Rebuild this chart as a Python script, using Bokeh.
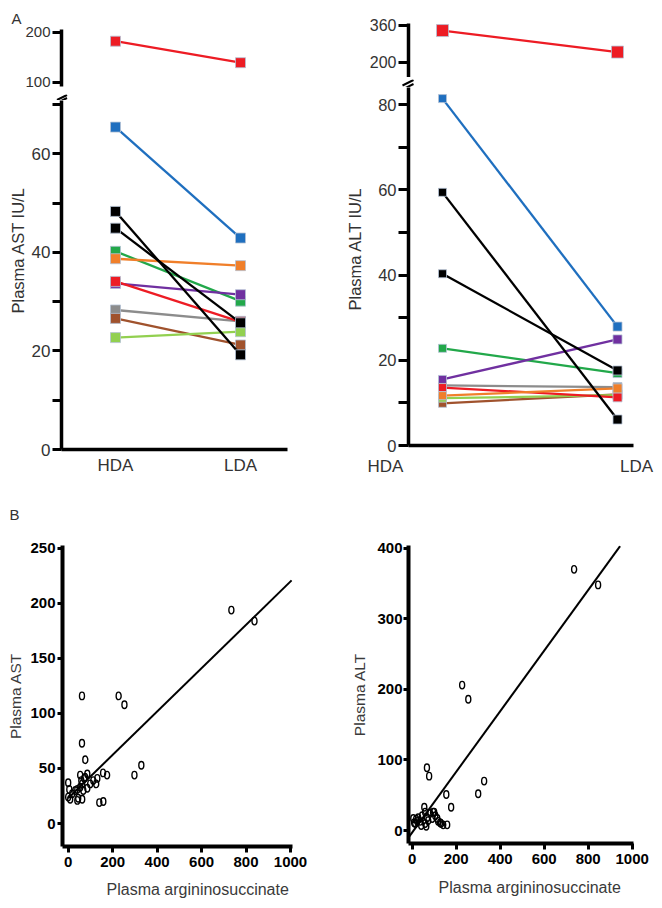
from bokeh.plotting import figure
from bokeh.layouts import row, column
from bokeh.models import FixedTicker, Range1d, Title
from bokeh.embed import file_html
from bokeh.resources import INLINE

FONT = "Liberation Sans"

# ---------------- data ----------------
groups = ["HDA", "LDA"]
series_colors = ["#8c8c8c", "#a0522d", "#92d050", "#22a84a", "#7030a0",
                 "#ed1c24", "#f07f2a", "#1f6fbf", "#000000", "#000000", "#ed1c24"]
ast_hda = [28.3, 26.6, 22.7, 40.2, 33.7, 34.1, 38.7, 65.4, 48.3, 44.9, 182]
ast_lda = [26.0, 21.2, 23.9, 30.1, 31.4, 25.9, 37.3, 42.9, 19.2, 25.7, 139]
alt_hda = [14.1, 9.9, 11.1, 22.8, 15.5, 13.6, 11.7, 81.4, 59.4, 40.3, 338]
alt_lda = [13.7, 12.0, 11.8, 17.0, 24.9, 11.3, 13.4, 27.9, 6.1, 17.6, 245]

ast_ticks_upper = [100, 200]
ast_ticks_lower = [0, 10, 20, 30, 40, 50, 60, 70]
alt_ticks_upper = [200, 360]
alt_ticks_lower = [0, 10, 20, 30, 40, 50, 60, 70, 80]

asa_ast_x = [0, 5, 0, 9, 18, 32, 41, 45, 41, 63, 68, 54, 54, 59, 63, 72, 77, 86, 86, 99,
             113, 126, 131, 77, 62, 62, 227, 253, 157, 175, 298, 329, 140, 158, 734, 838]
ast_y = [37, 31, 24, 22, 27, 30, 31, 23, 21, 22, 30, 33, 44, 39, 36, 41, 42, 45, 32, 36,
         39, 36, 41, 58, 73, 116, 116, 108, 46, 44, 44, 53, 19, 20, 194, 184]
ast_fit_x = [0, 1005]
ast_fit_y = [23, 221]

asa_alt_x = [5, 9, 18, 27, 36, 45, 55, 59, 68, 73, 59, 64, 82, 95, 105, 114, 118, 132, 141,
             159, 91, 41, 14, 23, 100, 127, 67, 77, 155, 177, 300, 327, 227, 255, 736, 845]
alt_y = [17, 11, 16, 18, 13, 21, 33, 26, 18, 14, 10, 6, 24, 26, 21, 17, 13, 10, 8,
         8, 17, 7, 10, 13, 26, 11, 89, 77, 51, 33, 52, 70, 206, 186, 370, 348]
alt_fit_x = [-17, 945]
alt_fit_y = [-10, 403]

x_ticks_asa = [0, 200, 400, 600, 800, 1000]
ast_ticks_sc = [0, 50, 100, 150, 200, 250]
alt_ticks_sc = [0, 100, 200, 300, 400]


# ---------------- helpers ----------------
def make_fig(fw, fh, xr, yr, mbl, mbr, mbt, mbb, xaxis=True, yaxis=True, align=True):
    p = figure(frame_width=fw, frame_height=fh,
               x_range=Range1d(*xr), y_range=Range1d(*yr),
               min_border_left=mbl, min_border_right=mbr,
               min_border_top=mbt, min_border_bottom=mbb,
               output_backend="svg", toolbar_location=None,
               x_axis_location="below" if xaxis else None,
               y_axis_location="left" if yaxis else None)
    p.outline_line_color = None
    p.grid.visible = False
    p.background_fill_color = "white"
    p.border_fill_color = "white"
    if not align and "frame_align" in p.properties():
        p.frame_align = False
    return p


def style_axis(ax, ticks, hide=(), lw=3.5, tick_out=9, size="16px", color="#333333",
               bold=False, standoff=2):
    ax.ticker = FixedTicker(ticks=ticks)
    if hide:
        ax.major_label_overrides = {t: "" for t in hide}
    ax.axis_line_width = lw
    ax.axis_line_color = "black"
    ax.major_tick_line_width = 3
    ax.major_tick_line_color = "black"
    ax.major_tick_out = tick_out
    ax.major_tick_in = 0
    ax.minor_tick_line_color = None
    ax.major_label_text_font = FONT
    ax.major_label_text_font_size = size
    ax.major_label_text_color = color
    ax.major_label_text_font_style = "bold" if bold else "normal"
    ax.major_label_standoff = standoff


def title(p, text, side, offset, standoff, size="16px", color="#333333"):
    p.add_layout(Title(text=text, align="left", offset=offset, standoff=standoff,
                       text_font=FONT, text_font_size=size, text_font_style="normal",
                       text_color=color), side)


def paired(p, hda, lda, hsize, lsize):
    xs = [i + 1 for i in range(len(groups))]
    for c, h, l in zip(series_colors, hda, lda):
        p.line(xs, [h, l], line_color=c, line_width=2.3)
        p.scatter([xs[0]], [h], marker="square", size=hsize, fill_color=c,
                  line_color="#b4c2d4", line_width=0.8)
        p.scatter([xs[1]], [l], marker="square", size=lsize, fill_color=c,
                  line_color="#b4c2d4", line_width=0.8)


def break_strip(fw, fh, xr, yr, x0, x1, ys0, ys1):
    # thin strip carrying the "//" axis-break marks (its coordinates are page pixels)
    b = make_fig(fw, fh, xr, yr, 0, 0, 0, 0, xaxis=False, yaxis=False, align=False)
    b.segment(x0=[x0, x0], y0=ys0, x1=[x1, x1], y1=ys1, line_color="black", line_width=2)
    return b


# ---------------- panel A: AST ----------------
ast_xr = (0.568, 2.376)
ast_up = make_fig(226, 57, ast_xr, (91.4, 205.4), 61, 41, 29, 5, xaxis=False)
style_axis(ast_up.yaxis[0], ast_ticks_upper, size="15px")
paired(ast_up, ast_hda, ast_lda, 10, 10)
title(ast_up, "A", "above", -50, 6, size="15px")

ast_brk = break_strip(328, 9, (0, 328), (100, 91), 56.5, 66.5, [96.5, 99.5], [91.5, 94.5])

ast_lo = make_fig(226, 349, ast_xr, (0.0, 70.8), 61, 41, 0, 31)
style_axis(ast_lo.yaxis[0], ast_ticks_lower, hide=[10, 30, 50, 70], size="17px")
style_axis(ast_lo.xaxis[0], [1, 2], size="17px", tick_out=0, standoff=6)
ast_lo.xaxis[0].major_label_overrides = {i + 1: gname for i, gname in enumerate(groups)}
ast_lo.xaxis[0].major_tick_line_color = None
paired(ast_lo, ast_hda, ast_lda, 10, 10)
title(ast_lo, "Plasma AST IU/L", "left", 136, 4, size="16.5px")

# ---------------- panel A: ALT ----------------
alt_xr = (0.8057, 2.0914)
alt_up = make_fig(225, 54, alt_xr, (135.1, 368.6), 80, 21, 23, 0, xaxis=False)
style_axis(alt_up.yaxis[0], alt_ticks_upper, size="16px", tick_out=10)
paired(alt_up, alt_hda, alt_lda, 12, 12)

alt_brk = break_strip(326, 10, (328, 654), (87, 77), 402.0, 413.0, [83.0, 87.0], [77.5, 81.5])

alt_lo = make_fig(225, 358, alt_xr, (0.0, 84.0), 80, 21, 0, 10)
style_axis(alt_lo.yaxis[0], alt_ticks_lower, hide=[10, 30, 50, 70], size="16.5px", tick_out=10)
style_axis(alt_lo.xaxis[0], [], tick_out=0)
paired(alt_lo, alt_hda, alt_lda, 8, 9)
title(alt_lo, "Plasma ALT IU/L", "left", 135, 24, size="16.5px")

# group labels of the ALT panel sit left of its y axis, so they get their own axis strip
alt_lbl = make_fig(287, 1, (0.92829, 2.07171), (0, 1), 39, 0, 0, 24, yaxis=False, align=False)
style_axis(alt_lbl.xaxis[0], [1, 2], size="17px", tick_out=0, standoff=0)
alt_lbl.xaxis[0].major_label_overrides = {i + 1: gname for i, gname in enumerate(groups)}
alt_lbl.xaxis[0].axis_line_color = None
alt_lbl.xaxis[0].major_tick_line_color = None

# ---------------- panel B: scatter ----------------
sc_ast = make_fig(230, 301, (-25.6, 1009.0), (-20.9, 252.7), 62, 36, 65, 61)
style_axis(sc_ast.yaxis[0], ast_ticks_sc, lw=4, tick_out=5, size="15px", color="black",
           bold=True, standoff=2)
style_axis(sc_ast.xaxis[0], x_ticks_asa, lw=4, tick_out=6, size="15px", color="black",
           bold=True, standoff=4)
sc_ast.yaxis[0].axis_label = "Plasma AST"
sc_ast.line(ast_fit_x, ast_fit_y, line_color="black", line_width=2)
sc_ast.ellipse(asa_ast_x, ast_y, width=5, height=7.5, width_units="screen",
               height_units="screen", fill_color=None, line_color="black", line_width=1.4)
title(sc_ast, "B", "above", -53, 45, size="15px")
title(sc_ast, "Plasma argininosuccinate", "below", 44, 18, color="#3a3a3a")

sc_alt = make_fig(225, 298, (-16.8, 1005.9), (-18.4, 403.8), 80, 21, 65, 64)
style_axis(sc_alt.yaxis[0], alt_ticks_sc, lw=4, tick_out=5, size="15px", color="black",
           bold=True, standoff=1)
style_axis(sc_alt.xaxis[0], x_ticks_asa, lw=4, tick_out=6, size="15px", color="black",
           bold=True, standoff=4)
sc_alt.yaxis[0].axis_label = "Plasma ALT"
sc_alt.line(alt_fit_x, alt_fit_y, line_color="black", line_width=2)
sc_alt.ellipse(asa_alt_x, alt_y, width=5, height=7.5, width_units="screen",
               height_units="screen", fill_color=None, line_color="black", line_width=1.4)
title(sc_alt, "Plasma argininosuccinate", "below", 30, 21, color="#3a3a3a")

for ax, standoff in ((sc_ast.yaxis[0], 3), (sc_alt.yaxis[0], 6)):
    ax.axis_label_standoff = standoff
    ax.axis_label_text_font = FONT
    ax.axis_label_text_font_size = "15.5px"
    ax.axis_label_text_font_style = "normal"
    ax.axis_label_text_color = "#3a3a3a"

layout = column(
    row(column(ast_up, ast_brk, ast_lo), column(alt_up, alt_brk, alt_lo, alt_lbl)),
    row(sc_ast, sc_alt),
)

open("out.html", "w").write(file_html(layout, INLINE))
